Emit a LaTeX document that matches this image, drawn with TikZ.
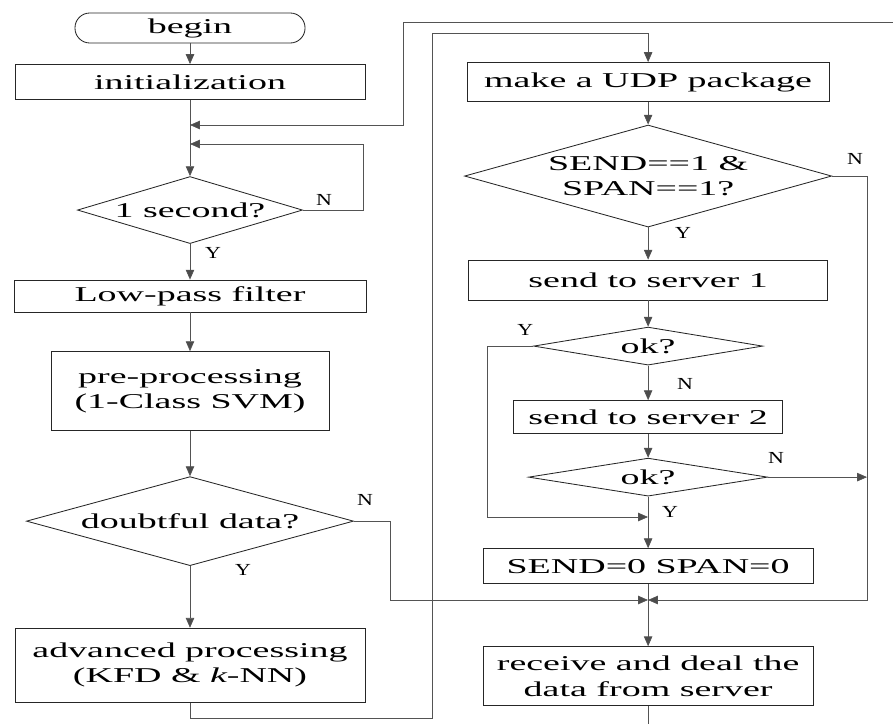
\documentclass[tikz,border=0pt]{standalone}
\usepackage{fontspec}
\newfontfamily\boxfont[FakeStretch=1.8]{Liberation Serif}
\newfontfamily\ynfont[FakeStretch=1.3]{Liberation Serif}
\usetikzlibrary{shapes.geometric,arrows.meta}

\begin{document}
\begin{tikzpicture}[x=0.025cm,y=-0.025cm,>={Triangle[length=7pt,width=6pt,fill=gray!60!black]}]
    \tikzstyle{every node}=[font=\boxfont\fontsize{15}{18}\selectfont]
    \tikzstyle{box}=[draw=black!85, line width=0.6pt, inner sep=0pt, align=center]
    \tikzstyle{term}=[box, rounded corners=0.37cm, minimum width=5.75cm, minimum height=0.75cm]
    \tikzstyle{test}=[box, diamond]
    \tikzstyle{conn}=[draw=gray!65!black, line width=0.5pt, ->]
    \tikzstyle{lbl}=[font=\ynfont\fontsize{12}{12}\selectfont, inner sep=0pt]

    \useasboundingbox (0,0) rectangle (893,723);

    % left column
    \node[term] (begin) at (190,28) {begin};
    \node[box, node distance=1.35cm, minimum width=8.75cm, minimum height=0.875cm] (init) [below of=begin] {initialization};
    \node[test, node distance=3.2cm, aspect=3.36, minimum width=5.625cm, minimum height=1.675cm] (sec) [below of=init] {1 second?};
    \node[box, node distance=2.15cm, minimum width=8.8cm, minimum height=0.8cm] (lpf) [below of=sec] {Low-pass filter};
    \node[box, node distance=2.375cm, minimum width=6.95cm, minimum height=1.975cm] (pre) [below of=lpf] {pre-processing\\(1-Class SVM)};
    \node[test, node distance=3.25cm, aspect=3.67, minimum width=8.175cm, minimum height=2.225cm] (doubt) [below of=pre] {doubtful data?};
    \node[box, node distance=3.6cm, minimum width=8.75cm, minimum height=1.85cm] (adv) [below of=doubt] {advanced processing\\(KFD \& {\itshape k}-NN)};

    % right column
    \node[box, node distance=11.45cm, minimum width=9.05cm, minimum height=0.975cm] (udp) [right of=init] {make a UDP package};
    \node[test, node distance=2.35cm, aspect=3.6, minimum width=9.175cm, minimum height=2.55cm] (cond) [below of=udp] {SEND==1 \&\\SPAN==1?};
    \node[box, node distance=2.6cm, minimum width=8.975cm, minimum height=1cm] (srv1) [below of=cond] {send to server 1};
    \node[test, node distance=1.65cm, aspect=6, minimum width=5.725cm, minimum height=0.95cm] (ok1) [below of=srv1] {ok?};
    \node[box, node distance=1.775cm, minimum width=6.725cm, minimum height=0.825cm] (srv2) [below of=ok1] {send to server 2};
    \node[test, node distance=1.5cm, aspect=6.3, minimum width=5.975cm, minimum height=0.95cm] (ok2) [below of=srv2] {ok?};
    \node[box, node distance=2.225cm, minimum width=8.25cm, minimum height=0.875cm] (reset) [below of=ok2] {SEND=0 SPAN=0};
    \node[box, node distance=2.75cm, minimum width=8.25cm, minimum height=1.475cm] (recv) [below of=reset] {receive and deal the\\data from server};

    \coordinate (back) at (190,125);
    \coordinate (wait) at (190,144);
    \coordinate (merge) at (648,600);
    \coordinate (okjoin) at (648,517);
    \coordinate (rbus) at (867,600);

    \path[conn] (begin) edge (init)
          (init)  edge (sec)
          (sec)   edge (lpf)
          (lpf)   edge (pre)
          (pre)   edge (doubt)
          (doubt) edge (adv)
          (udp)   edge (cond)
          (cond)  edge (srv1)
          (srv1)  edge (ok1)
          (ok1)   edge (srv2)
          (srv2)  edge (ok2)
          (ok2)   edge (reset)
          (reset) edge (recv);

    \draw[conn] (sec.east) -| (363,144) -- (wait);
    \draw[conn] (doubt.east) -| (390,600) -- (merge);
    \draw[conn] (adv.south) |- (432,718) |- (udp.north |- 0,33) -- (udp.north);
    \draw[conn] (cond.east) -| (rbus) -- (merge);
    \draw[conn] (ok1.west) -| (487,517) -- (okjoin);
    \draw[conn] (ok2.east) -- (ok2.east -| rbus);
    \draw[conn] (recv.south) -- ++(0,40) -| (905,22) -| (403,125) -- (back);

    % Y / N labels
    \node[lbl] (secN) at ([shift={(21,-10)}]sec.east) {N};
    \node[lbl] (secY) at ([shift={(23,9)}]sec.south) {Y};
    \node[lbl] (doubtN) at ([shift={(11,-21)}]doubt.east) {N};
    \node[lbl] (doubtY) at ([shift={(53,4)}]doubt.south) {Y};
    \node[lbl] (condN) at ([shift={(23,-17)}]cond.east) {N};
    \node[lbl] (condY) at ([shift={(35,5)}]cond.south) {Y};
    \node[lbl] (ok1Y) at ([shift={(-8,-16)}]ok1.west) {Y};
    \node[lbl] (ok1N) at ([shift={(37,18)}]ok1.south) {N};
    \node[lbl] (ok2N) at ([shift={(8,-19)}]ok2.east) {N};
    \node[lbl] (ok2Y) at ([shift={(22,15)}]ok2.south) {Y};
\end{tikzpicture}
\end{document}
